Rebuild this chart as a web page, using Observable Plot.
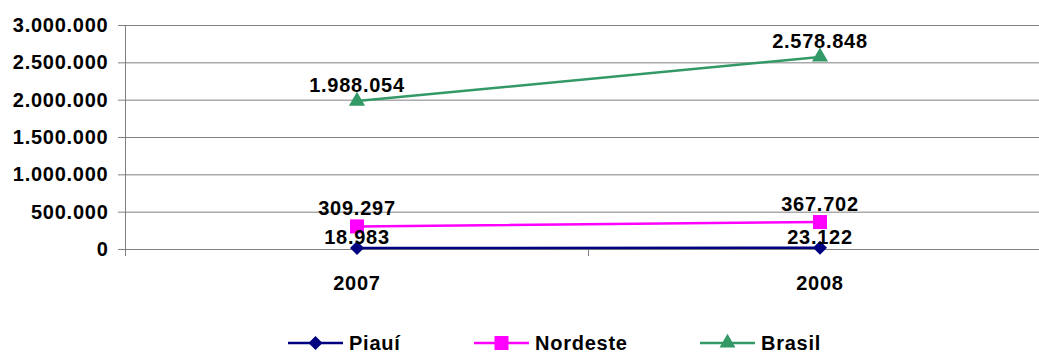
<!DOCTYPE html>
<html><head><meta charset="utf-8">
<script src="https://cdn.jsdelivr.net/npm/d3@7"></script>
<script src="https://cdn.jsdelivr.net/npm/@observablehq/plot@0.6"></script>
<style>
body{margin:0;background:#fff;overflow:hidden}
#chart{width:1039px;height:352px;position:relative;font-family:"Liberation Sans",Arial,sans-serif;font-weight:bold;background:#fff}
#chart svg text{letter-spacing:0.75px}
#legend{position:relative;height:42px;width:1039px}
.item{position:absolute;top:21px;height:24px;display:flex;align-items:center;font-size:20px;letter-spacing:0.75px;color:#000}
.item span{margin-left:6px}
</style>
</head><body>
<div id="chart"></div>
<script>
const years = [2007, 2008];
const seriesNames = ["Piauí", "Nordeste", "Brasil"];
const piaui = [18983, 23122];
const nordeste = [309297, 367702];
const brasil = [1988054, 2578848];
const seriesValues = [piaui, nordeste, brasil];
const colors = ["#000080", "#FF00FF", "#339966"];
const symbols = ["diamond2", "square", "triangle"];
const yTicks = [0, 500000, 1000000, 1500000, 2000000, 2500000, 3000000];
const bandEdges = [2006.5, 2007.5, 2008.5];

const fmt = d3.formatLocale({decimal: ",", thousands: ".", grouping: [3], currency: ["", ""]}).format(",d");

const marks = [
  Plot.gridY(yTicks, {stroke: "#808080", strokeOpacity: 1}),
  Plot.axisY(yTicks, {tickSize: 7, tickPadding: 10, tickFormat: fmt, label: null, stroke: "#808080", strokeOpacity: 1, fill: "#000"}),
  Plot.axisX(bandEdges, {tickSize: 7, tickFormat: () => "", label: null, stroke: "#808080", strokeOpacity: 1}),
  Plot.axisX(years, {tickSize: 0, tickPadding: 26, tickFormat: d => String(d), label: null, fill: "#000"}),
  Plot.ruleX([bandEdges[0]], {stroke: "#808080"}),
  Plot.ruleY([0], {stroke: "#808080"})
];
const labelDy = [-4, -11, -9];
const dotR = [6.3, 7.9, 6];
seriesNames.forEach((name, i) => {
  const rows = years.map((y, j) => ({year: y, value: seriesValues[i][j]}));
  marks.push(Plot.line(rows, {x: "year", y: "value", stroke: colors[i], strokeWidth: 2.5}));
  marks.push(Plot.dot(rows, {x: "year", y: "value", symbol: () => symbols[i], fill: colors[i], stroke: "none", r: dotR[i]}));
});
seriesNames.forEach((name, i) => {
  const rows = years.map((y, j) => ({year: y, value: seriesValues[i][j]}));
  marks.push(Plot.text(rows, {x: "year", y: "value", text: d => fmt(d.value), lineAnchor: "bottom", dy: labelDy[i], fill: "#000", fontWeight: "bold", fontSize: 20}));
});

const plot = Plot.plot({
  width: 1039,
  height: 310,
  marginLeft: 125,
  marginRight: 0,
  marginTop: 25,
  marginBottom: 61,
  style: {fontFamily: "'Liberation Sans', Arial, sans-serif", fontSize: "20px", fontWeight: "bold", overflow: "hidden", background: "#fff"},
  x: {type: "linear", domain: [2006.5, 2008.5], range: [125, 1051]},
  y: {domain: [0, 3000000]},
  symbol: {type: "identity"},
  marks
});
const chart = document.getElementById("chart");
chart.appendChild(plot);

// legend
const legend = document.createElement("div");
legend.id = "legend";
chart.appendChild(legend);
const legendLeft = [288, 474, 700];
const symGen = [d3.symbolDiamond2, d3.symbolSquare, d3.symbolTriangle];
const symSize = [125, 196, 110];
seriesNames.forEach((name, i) => {
  const item = document.createElement("div");
  item.className = "item";
  item.style.left = legendLeft[i] + "px";
  const svg = d3.create("svg").attr("width", 55).attr("height", 24);
  svg.append("line").attr("x1", 0).attr("x2", 55).attr("y1", 12).attr("y2", 12).attr("stroke", colors[i]).attr("stroke-width", 2.5);
  svg.append("path").attr("transform", "translate(27.5,12)").attr("d", d3.symbol(symGen[i], symSize[i])()).attr("fill", colors[i]);
  item.appendChild(svg.node());
  const t = document.createElement("span");
  t.textContent = name;
  item.appendChild(t);
  legend.appendChild(item);
});
</script>
</body></html>
